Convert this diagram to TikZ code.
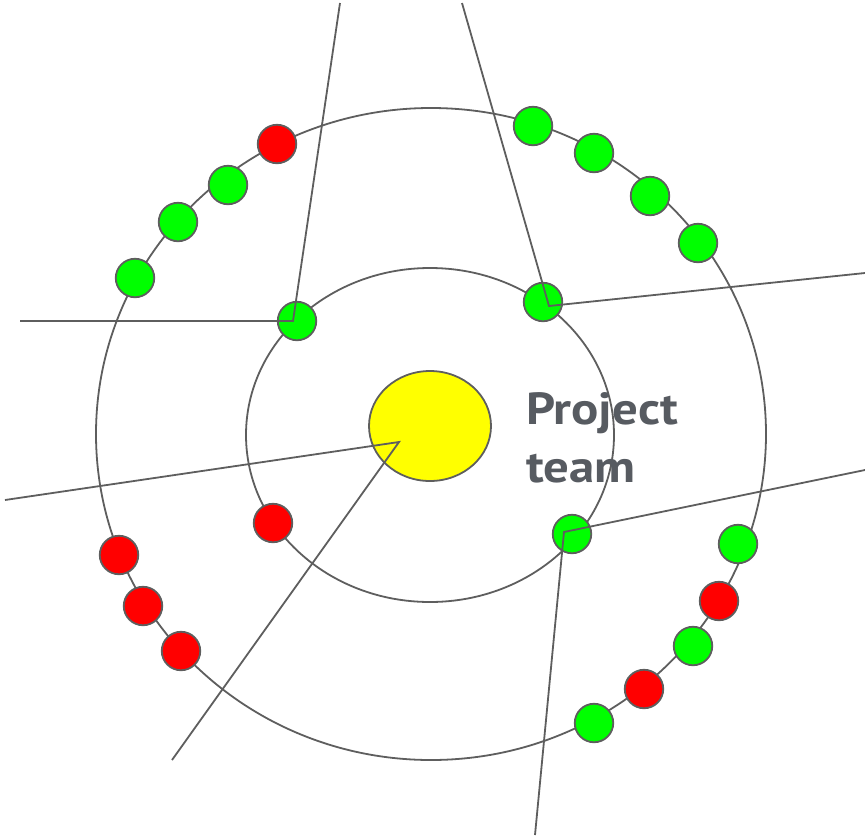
\documentclass[tikz,border=0pt]{standalone}
\usepackage{fontspec}
\setmainfont{PT Sans}
\newfontfamily\teamfont[FakeStretch=1.13]{PT Sans}
\usetikzlibrary{shapes.geometric}
\definecolor{linegray}{HTML}{5E5E5E}
\definecolor{textgray}{HTML}{575B61}
\definecolor{okgreen}{HTML}{00FF00}
\definecolor{badred}{HTML}{FF0000}
\definecolor{coreyellow}{HTML}{FFFF00}
\begin{document}
\begin{tikzpicture}[x=1pt,y=-1pt,
  ring/.style={draw=linegray, line width=1.8pt},
  member/.style={circle, draw=linegray, line width=1.8pt, minimum size=38.5pt, inner sep=0pt},
  good/.style={member, fill=okgreen},
  bad/.style={member, fill=badred},
  core/.style={ellipse, draw=linegray, line width=1.8pt, fill=coreyellow, minimum width=122pt, minimum height=110pt, inner sep=0pt},
  link/.style={draw=linegray, line width=1.8pt},
  teamtext/.style={font=\teamfont\fontsize{45}{54}\selectfont\bfseries, text=textgray, anchor=base west, inner sep=0pt}]
\useasboundingbox (0,0) rectangle (865,836);
% rings
\draw[ring] (431,434) ellipse [x radius=335, y radius=326];
\draw[ring] (430,435) ellipse [x radius=184, y radius=167];
% core
\node[core] (core) at (430,426) {};
% inner ring members
\node[good] (i1) at (297,321) {};
\node[good] (i2) at (543,302) {};
\node[bad]  (i3) at (273,523) {};
\node[good] (i4) at (572,534) {};
% outer ring members
\node[good] (o1) at (135,278) {};
\node[good] (o2) at (178,222) {};
\node[good] (o3) at (228,185) {};
\node[bad]  (o4) at (277,144) {};
\node[good] (o5) at (533,126) {};
\node[good] (o6) at (594,153) {};
\node[good] (o7) at (650,196) {};
\node[good] (o8) at (698,243) {};
\node[bad]  (o9) at (119,555) {};
\node[bad]  (o10) at (143,606) {};
\node[bad]  (o11) at (181,651) {};
\node[good] (o12) at (738,544) {};
\node[bad]  (o13) at (719,601) {};
\node[good] (o14) at (693,646) {};
\node[bad]  (o15) at (644,689) {};
\node[good] (o16) at (594,723) {};
% text
\node[teamtext] (t1) at (526,424) {Project};
\node[teamtext] (t2) at (526,482) {team};
% connectors
\coordinate (e1) at (340,3);
\coordinate (j1) at (293,321);
\coordinate (e2) at (20,321);
\coordinate (e3) at (462,3);
\coordinate (j2) at (549,306);
\coordinate (e4) at (865,273);
\coordinate (e5) at (5,500);
\coordinate (j3) at (399,442);
\coordinate (e6) at (172,760);
\coordinate (e7) at (865,470);
\coordinate (j4) at (564,532);
\coordinate (e8) at (535,835);
\draw[link] (e1) -- (j1) -- (e2);
\draw[link] (e3) -- (j2) -- (e4);
\draw[link] (e5) -- (j3) -- (e6);
\draw[link] (e7) -- (j4) -- (e8);
\end{tikzpicture}
\end{document}
